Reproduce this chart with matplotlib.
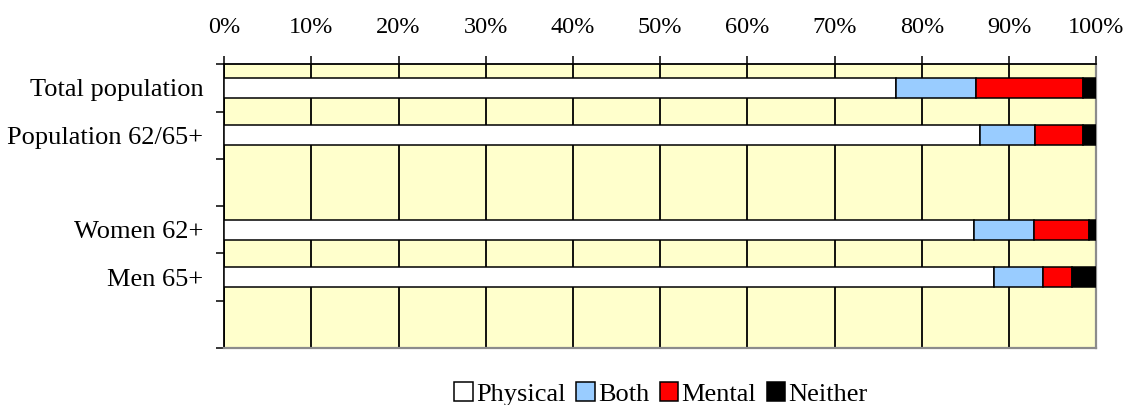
import numpy as np
import matplotlib
matplotlib.use('Agg')
import matplotlib.pyplot as plt
from matplotlib.ticker import FixedLocator, PercentFormatter

plt.rcParams['font.family'] = ['Liberation Serif', 'DejaVu Serif']

# data (percent shares)
categories = ['Total population', 'Population 62/65+', '', 'Women 62+', 'Men 65+', '']
series = ['Physical', 'Both', 'Mental', 'Neither']
physical = [77.0, 86.6, 0, 86.0, 88.2, 0]
both = [9.2, 6.4, 0, 6.8, 5.7, 0]
mental = [12.2, 5.5, 0, 6.4, 3.3, 0]
neither = [1.6, 1.5, 0, 0.8, 2.8, 0]
colors = ['#FFFFFF', '#99CCFF', '#FF0000', '#000000']


def stacked_bars(ax, values):
	pos = np.arange(len(categories))
	left = np.zeros(len(categories))
	handles = []
	for name, vals, col in zip(series, values, colors):
		vals = np.array(vals, dtype=float)
		keep = vals > 0
		b = ax.barh(pos[keep], vals[keep], left=left[keep], height=0.43,
				color=col, edgecolor='black', linewidth=1.1, zorder=3, label=name)
		handles.append(b)
		left = left + vals
	return handles


fig = plt.figure(figsize=(11.24, 4.05), dpi=100)
ax = fig.add_axes([0.1993, 0.1407, 0.7762, 0.7005])
ax.set_facecolor('#FFFFCC')

handles = stacked_bars(ax, [physical, both, mental, neither])

ax.set_xlim(0, 100)
ax.set_ylim(len(categories) - 0.5, -0.5)
ax.xaxis.set_major_locator(FixedLocator(np.arange(0, 101, 10)))
ax.xaxis.set_major_formatter(PercentFormatter(decimals=0))
ax.xaxis.tick_top()
ax.tick_params(axis='x', which='major', direction='out', length=6, width=1.1,
		color='black', labelsize=17.5, pad=13)
ax.grid(axis='x', color='black', linewidth=1.3, zorder=1)

ax.yaxis.set_major_locator(FixedLocator(np.arange(-0.5, len(categories), 1.0)))
ax.yaxis.set_major_formatter(plt.NullFormatter())
ax.yaxis.set_minor_locator(FixedLocator(np.arange(len(categories))))
ax.set_yticklabels(categories, minor=True)
ax.tick_params(axis='y', which='major', direction='out', length=6, width=1.1, color='black')
ax.tick_params(axis='y', which='minor', length=0, labelsize=19, pad=15)

for side in ['left', 'top']:
	ax.spines[side].set_color('black')
	ax.spines[side].set_linewidth(1.3)
for side in ['right', 'bottom']:
	ax.spines[side].set_color('#8C8C8C')
	ax.spines[side].set_linewidth(1.6)

fig.legend(handles=handles, labels=series, loc='center', bbox_to_anchor=(0.588, 0.027),
		ncol=4, frameon=False, fontsize=19, handlelength=0.7, handleheight=0.7,
		handletextpad=0.12, columnspacing=0.4, borderaxespad=0)

fig.savefig('out.png', dpi=100)
